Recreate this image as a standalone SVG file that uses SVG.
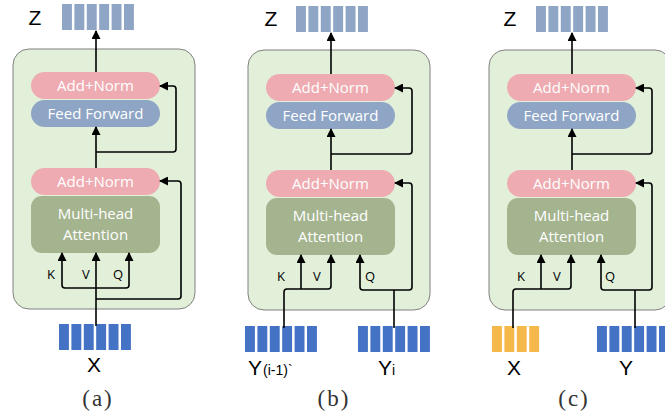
<svg xmlns="http://www.w3.org/2000/svg" width="665" height="417" viewBox="0 0 665 417">
<style>
.cont{fill:#e2efd9;stroke:#808080;stroke-width:1}
.pink{fill:#eeacb2}
.ff{fill:#8ea5c5}
.mha{fill:#a4b48e}
.zb{fill:#8ea5c5}
.bb{fill:#4472c4}
.ob{fill:#f5b84a}
.bt{font-family:"Open Sans","Liberation Sans",Arial,sans-serif;font-size:15px;fill:#ffffff;text-anchor:middle}
.lb{font-family:"Open Sans","Liberation Sans",Arial,sans-serif;font-size:13px;fill:#000;text-anchor:middle}
.big{font-family:"Liberation Sans",Arial,sans-serif;font-size:21px;fill:#000;text-anchor:middle}
.sub{font-family:"Liberation Sans",Arial,sans-serif;font-size:14px;fill:#000}
.cap{font-family:"Liberation Serif","Times New Roman",serif;font-size:23px;fill:#333;text-anchor:middle;letter-spacing:2px}
.ln{fill:none;stroke:#000;stroke-width:1.6}
</style>
<defs>
<marker id="ah" markerUnits="userSpaceOnUse" markerWidth="9" markerHeight="9" viewBox="0 0 9 9" refX="8" refY="4.5" orient="auto">
<path d="M0 0 L9 4.5 L0 9 Z" fill="#000"/>
</marker>
<g id="z6">
<rect x="0" y="0" width="9.9" height="26" class="zb"/>
<rect x="12.4" y="0" width="9.9" height="26" class="zb"/>
<rect x="24.8" y="0" width="9.9" height="26" class="zb"/>
<rect x="37.2" y="0" width="9.9" height="26" class="zb"/>
<rect x="49.6" y="0" width="9.9" height="26" class="zb"/>
<rect x="62" y="0" width="9.9" height="26" class="zb"/>
</g>
<g id="b6">
<rect x="0" y="0" width="9.9" height="26" class="bb"/>
<rect x="12.4" y="0" width="9.9" height="26" class="bb"/>
<rect x="24.8" y="0" width="9.9" height="26" class="bb"/>
<rect x="37.2" y="0" width="9.9" height="26" class="bb"/>
<rect x="49.6" y="0" width="9.9" height="26" class="bb"/>
<rect x="62" y="0" width="9.9" height="26" class="bb"/>
</g>
<g id="o4">
<rect x="0" y="0" width="9.9" height="26" class="ob"/>
<rect x="12.4" y="0" width="9.9" height="26" class="ob"/>
<rect x="24.8" y="0" width="9.9" height="26" class="ob"/>
<rect x="37.2" y="0" width="9.9" height="26" class="ob"/>
</g>
</defs>

<!-- Panel (a) -->
<g id="a-container"><rect class="cont" x="13" y="49" width="182" height="260" rx="16"/></g>
<g id="a-addnorm2"><rect class="pink" x="31" y="72" width="129" height="27" rx="13.5"/><text class="bt" x="95.5" y="91">Add+Norm</text></g>
<g id="a-ff"><rect class="ff" x="31" y="100" width="129" height="27" rx="13.5"/><text class="bt" x="95.5" y="119">Feed Forward</text></g>
<g id="a-addnorm1"><rect class="pink" x="31" y="168" width="129" height="27" rx="13.5"/><text class="bt" x="95.5" y="187">Add+Norm</text></g>
<g id="a-mha"><rect class="mha" x="31" y="196" width="129" height="57" rx="11"/><text class="bt" x="95.5" y="219">Multi-head</text><text class="bt" x="95.5" y="240">Attention</text></g>
<g id="a-z"><text class="big" x="35" y="25">Z</text><use href="#z6" x="62" y="4"/></g>
<g id="a-x"><use href="#b6" x="59" y="324"/><text class="big" x="94" y="372">X</text></g>
<g id="a-kvq"><text class="lb" x="51" y="279">K</text><text class="lb" x="86" y="279">V</text><text class="lb" x="118" y="279">Q</text></g>
<text class="cap" x="98" y="406">(a)</text>

<!-- Panel (b) -->
<g id="b-container"><rect class="cont" x="248" y="50" width="182" height="260" rx="16"/></g>
<g id="b-addnorm2"><rect class="pink" x="266" y="74" width="129" height="27" rx="13.5"/><text class="bt" x="330.5" y="93">Add+Norm</text></g>
<g id="b-ff"><rect class="ff" x="266" y="102" width="129" height="27" rx="13.5"/><text class="bt" x="330.5" y="121">Feed Forward</text></g>
<g id="b-addnorm1"><rect class="pink" x="266" y="170" width="129" height="27" rx="13.5"/><text class="bt" x="330.5" y="189">Add+Norm</text></g>
<g id="b-mha"><rect class="mha" x="266" y="198" width="129" height="57" rx="11"/><text class="bt" x="330.5" y="221">Multi-head</text><text class="bt" x="330.5" y="242">Attention</text></g>
<g id="b-z"><text class="big" x="271" y="26">Z</text><use href="#z6" x="296" y="6"/></g>
<g id="b-y1"><use href="#b6" x="245" y="326"/><text class="big" x="255" y="375">Y</text><text class="sub" x="263" y="375">(i-1)`</text></g>
<g id="b-yi"><use href="#b6" x="358" y="326"/><text class="big" x="385" y="375">Y</text><text class="sub" x="392" y="375">i</text></g>
<g id="b-kvq"><text class="lb" x="281" y="281">K</text><text class="lb" x="317" y="281">V</text><text class="lb" x="370" y="281">Q</text></g>
<text class="cap" x="334" y="406">(b)</text>

<!-- Panel (c) -->
<g id="c-container"><rect class="cont" x="489" y="50" width="182" height="260" rx="16"/></g>
<g id="c-addnorm2"><rect class="pink" x="507" y="74" width="129" height="27" rx="13.5"/><text class="bt" x="571.5" y="93">Add+Norm</text></g>
<g id="c-ff"><rect class="ff" x="507" y="102" width="129" height="27" rx="13.5"/><text class="bt" x="571.5" y="121">Feed Forward</text></g>
<g id="c-addnorm1"><rect class="pink" x="507" y="170" width="129" height="27" rx="13.5"/><text class="bt" x="571.5" y="189">Add+Norm</text></g>
<g id="c-mha"><rect class="mha" x="507" y="198" width="129" height="57" rx="11"/><text class="bt" x="571.5" y="221">Multi-head</text><text class="bt" x="571.5" y="242">Attention</text></g>
<g id="c-z"><text class="big" x="510" y="26">Z</text><use href="#z6" x="536" y="6"/></g>
<g id="c-x"><use href="#o4" x="492" y="326"/><text class="big" x="514" y="375">X</text></g>
<g id="c-y"><use href="#b6" x="597" y="326"/><text class="big" x="626" y="375">Y</text></g>
<g id="c-kvq"><text class="lb" x="521" y="281">K</text><text class="lb" x="557" y="281">V</text><text class="lb" x="610" y="281">Q</text></g>
<text class="cap" x="574" y="406">(c)</text>

<g id="connectors">
<!-- a -->
<path class="ln" d="M96 72 V31" marker-end="url(#ah)"/>
<path class="ln" d="M96 168 V127" marker-end="url(#ah)"/>
<path class="ln" d="M96 152 H173 Q176 152 176 149 V89 Q176 86 173 86 H160" marker-end="url(#ah)"/>
<path class="ln" d="M96 299 H178 Q181 299 181 296 V184 Q181 181 178 181 H160" marker-end="url(#ah)"/>
<path class="ln" d="M96 326 V253" marker-end="url(#ah)"/>
<path class="ln" d="M96 288 H65 Q62 288 62 285 V253" marker-end="url(#ah)"/>
<path class="ln" d="M96 288 H126 Q129 288 129 285 V253" marker-end="url(#ah)"/>
<!-- b -->
<path class="ln" d="M331 74 V33" marker-end="url(#ah)"/>
<path class="ln" d="M331 170 V129" marker-end="url(#ah)"/>
<path class="ln" d="M331 154 H409 Q412 154 412 151 V91 Q412 88 409 88 H395" marker-end="url(#ah)"/>
<path class="ln" d="M394 328 V290"/>
<path class="ln" d="M394 290 H363 Q360 290 360 287 V255" marker-end="url(#ah)"/>
<path class="ln" d="M394 290 H409 Q412 290 412 287 V186 Q412 183 409 183 H395" marker-end="url(#ah)"/>
<path class="ln" d="M284 328 V292 Q284 289 287 289 H328 Q331 289 331 286 V255" marker-end="url(#ah)"/>
<path class="ln" d="M301 289 V255" marker-end="url(#ah)"/>
<!-- c -->
<path class="ln" d="M572 74 V33" marker-end="url(#ah)"/>
<path class="ln" d="M572 170 V129" marker-end="url(#ah)"/>
<path class="ln" d="M572 154 H649 Q652 154 652 151 V91 Q652 88 649 88 H636" marker-end="url(#ah)"/>
<path class="ln" d="M635 328 V290"/>
<path class="ln" d="M635 290 H604 Q601 290 601 287 V255" marker-end="url(#ah)"/>
<path class="ln" d="M635 290 H649 Q652 290 652 287 V186 Q652 183 649 183 H636" marker-end="url(#ah)"/>
<path class="ln" d="M513 328 V292 Q513 289 516 289 H568 Q571 289 571 286 V255" marker-end="url(#ah)"/>
<path class="ln" d="M541 289 V255" marker-end="url(#ah)"/>
</g>
</svg>
